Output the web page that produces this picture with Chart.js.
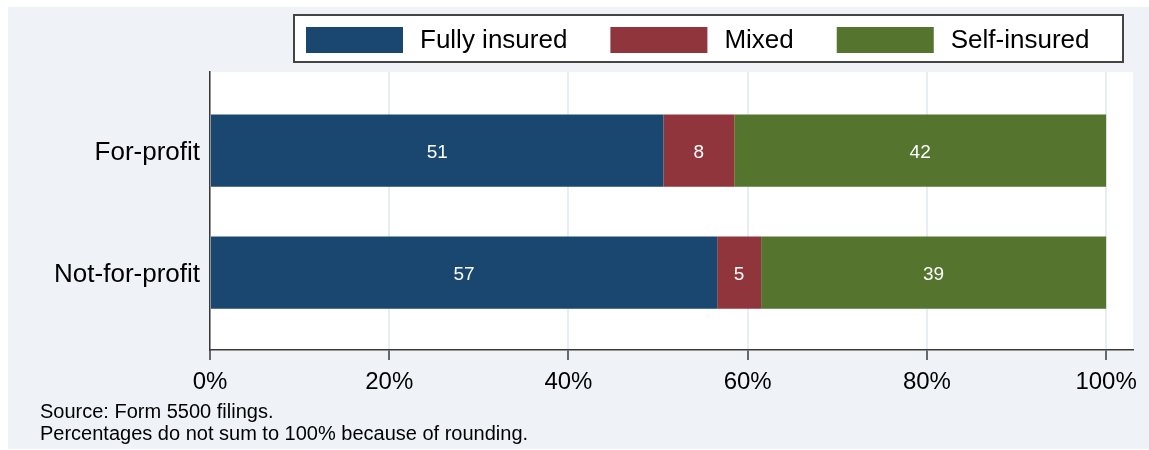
<!DOCTYPE html>
<html><head><meta charset="utf-8">
<script src="https://cdn.jsdelivr.net/npm/chart.js@4.4.0/dist/chart.umd.min.js"></script>
<style>html,body{margin:0;padding:0;background:#fff;} canvas{display:block;}</style>
</head><body>
<canvas id="c" width="1149" height="450"></canvas>
<script>
const categories = ['For-profit', 'Not-for-profit'];
const seriesNames = ['Fully insured', 'Mixed', 'Self-insured'];
const fullyInsured = [50.6, 56.6];
const mixed = [7.9, 4.9];
const selfInsured = [41.5, 38.5];
const xTicks = [0, 20, 40, 60, 80, 100];
const notes = ['Source: Form 5500 filings.', 'Percentages do not sum to 100% because of rounding.'];
const colors = ['#1a476f', '#90353b', '#55752f'];
const FONT = '"Liberation Sans", Arial, Helvetica, sans-serif';
const BG = '#eff2f7';
const GRID = '#e8edf4';
const AXIS = '#3a3a3a';
const Y_MIN = -0.645, Y_MAX = 1.635;

function pts(arr) { return arr.map((v, i) => ({ x: v, y: i })); }

const bgPlugin = {
  id: 'bg',
  beforeDraw(chart) {
    const { ctx, chartArea: a, width, height } = chart;
    ctx.save();
    ctx.fillStyle = '#ffffff';
    ctx.fillRect(0, 0, width, height);
    ctx.fillStyle = BG;
    ctx.fillRect(8, 7, width - 8, height - 8);
    ctx.fillStyle = '#ffffff';
    ctx.fillRect(a.left, a.top, a.right - a.left, a.bottom - a.top);
    ctx.restore();
  }
};

const labelPlugin = {
  id: 'segLabels',
  afterDatasetsDraw(chart) {
    const { ctx } = chart;
    ctx.save();
    ctx.fillStyle = '#ffffff';
    ctx.font = '19px ' + FONT;
    ctx.textAlign = 'center';
    ctx.textBaseline = 'middle';
    chart.data.datasets.forEach((ds, di) => {
      const meta = chart.getDatasetMeta(di);
      meta.data.forEach((el, i) => {
        const v = ds.data[i].x;
        ctx.fillText(String(Math.round(v)), (el.x + el.base) / 2, el.y + 2);
      });
    });
    ctx.restore();
  }
};

const legendPlugin = {
  id: 'boxLegend',
  afterDraw(chart) {
    const { ctx } = chart;
    ctx.save();
    const bx = 294, by = 15, bw = 829, bh = 47;
    ctx.fillStyle = '#ffffff';
    ctx.fillRect(bx, by, bw, bh);
    ctx.strokeStyle = '#444444';
    ctx.lineWidth = 2;
    ctx.strokeRect(bx, by, bw, bh);
    ctx.font = '26px ' + FONT;
    ctx.textBaseline = 'middle';
    ctx.textAlign = 'left';
    let x = 306;
    chart.data.datasets.forEach((ds) => {
      ctx.fillStyle = ds.backgroundColor;
      ctx.fillRect(x, 27, 97, 26);
      x += 97 + 17;
      ctx.fillStyle = '#000000';
      ctx.fillText(ds.label, x, 41);
      x += ctx.measureText(ds.label).width + 43;
    });
    ctx.restore();
  }
};

const notesPlugin = {
  id: 'notes',
  afterDraw(chart) {
    const { ctx } = chart;
    ctx.save();
    ctx.font = '20px ' + FONT;
    ctx.fillStyle = '#000000';
    ctx.textAlign = 'left';
    ctx.textBaseline = 'middle';
    notes.forEach((t, i) => ctx.fillText(t, 40, 412 + i * 22));
    ctx.restore();
  }
};

new Chart(document.getElementById('c'), {
  type: 'bar',
  data: {
    datasets: [
      { label: seriesNames[0], data: pts(fullyInsured), backgroundColor: colors[0] },
      { label: seriesNames[1], data: pts(mixed), backgroundColor: colors[1] },
      { label: seriesNames[2], data: pts(selfInsured), backgroundColor: colors[2] }
    ]
  },
  options: {
    indexAxis: 'y',
    responsive: false,
    animation: false,
    layout: { padding: { top: 72, right: 16, left: 0, bottom: 0 } },
    datasets: { bar: { barPercentage: 0.593, categoryPercentage: 1 } },
    plugins: { legend: { display: false }, tooltip: { enabled: false } },
    scales: {
      x: {
        type: 'linear', stacked: true, min: 0, max: 103,
        afterBuildTicks(s) { s.ticks = xTicks.map(v => ({ value: v })); },
        afterFit(s) { s.height = 100; },
        ticks: { callback: v => v + '%', font: { family: FONT, size: 24 }, color: '#000', padding: 8, maxRotation: 0 },
        grid: { color: GRID, lineWidth: 2, tickColor: AXIS, tickLength: 10, tickWidth: 1.5 },
        border: { display: true, color: AXIS, width: 1.5 }
      },
      y: {
        type: 'linear', stacked: true, reverse: true, min: Y_MIN, max: Y_MAX,
        offset: false, bounds: 'data', grace: 0,
        afterBuildTicks(s) { s.ticks = categories.map((_, i) => ({ value: i })); s.min = Y_MIN; s.max = Y_MAX; },
        afterFit(s) { s.width = 210; },
        ticks: { callback: v => categories[v], font: { family: FONT, size: 26 }, color: '#000', padding: 10, labelOffset: 2 },
        grid: { display: true, offset: false, color: 'rgba(0,0,0,0)', drawTicks: false },
        border: { display: true, color: AXIS, width: 1.5 }
      }
    }
  },
  plugins: [bgPlugin, labelPlugin, legendPlugin, notesPlugin]
});
</script>
</body></html>
